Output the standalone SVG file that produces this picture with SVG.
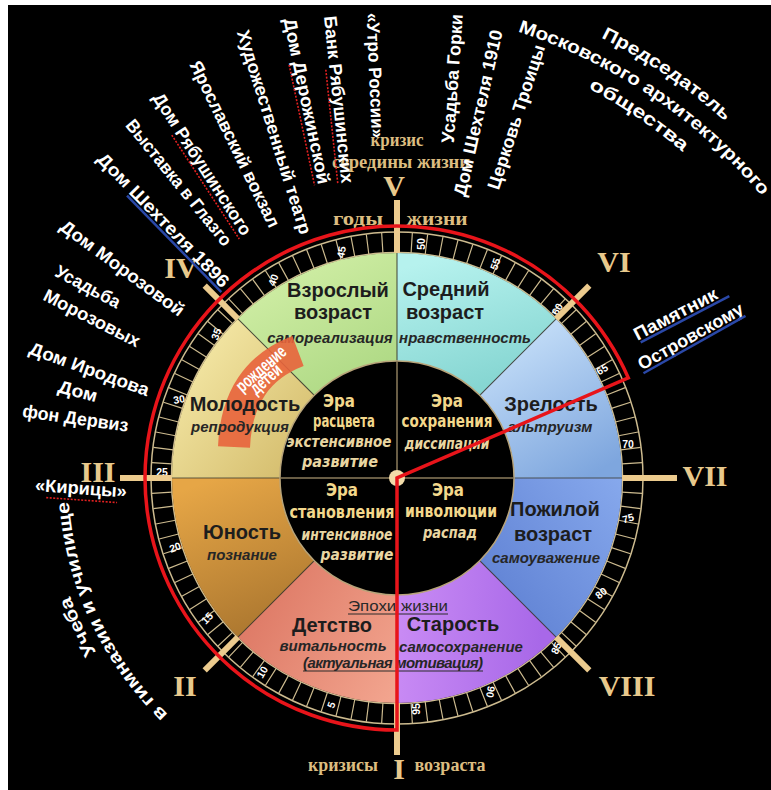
<svg xmlns="http://www.w3.org/2000/svg" width="771" height="790" viewBox="0 0 771 790">
<defs>
<style>
.lbl{font-family:"Liberation Sans",Arial,sans-serif;font-weight:bold;fill:#fff;font-size:18px;text-anchor:middle}
.rom{font-family:"Liberation Serif","Times New Roman",serif;font-weight:bold;fill:#e8c98c;font-size:30px;text-anchor:middle}
.srf{font-family:"Liberation Serif","Times New Roman",serif;font-weight:bold;fill:#dcbd80;font-size:18px;text-anchor:middle}
.sec{font-family:"Liberation Sans",Arial,sans-serif;font-weight:bold;fill:#1d1d1d;font-size:20px;text-anchor:middle}
.sit{font-family:"Liberation Sans",Arial,sans-serif;font-weight:bold;font-style:italic;fill:#262626;font-size:15px;text-anchor:middle}
.era{font-family:"DejaVu Sans Condensed","DejaVu Sans",sans-serif;font-weight:bold;fill:#f3d88c;font-size:18px;text-anchor:middle}
.eit{font-family:"DejaVu Sans Condensed","DejaVu Sans",sans-serif;font-weight:bold;font-style:italic;fill:#e9d6a2;font-size:15px;text-anchor:middle}
.tk text{font-family:"Liberation Sans",Arial,sans-serif;font-weight:bold;fill:#fff;font-size:10.5px;text-anchor:middle;dominant-baseline:central}
.sq{stroke:#e02020;stroke-width:1.6;stroke-dasharray:2 1.5;fill:none}
.bu{stroke:#2a48a8;stroke-width:2.5}
.bar{stroke:#eccb8e;stroke-width:6}
.div{stroke:#3a3a30;stroke-width:1.2;stroke-opacity:0.8}
</style>
<linearGradient id="gPoz" gradientUnits="userSpaceOnUse" x1="620" y1="480" x2="470" y2="600"><stop offset="0" stop-color="#86a8ec"/><stop offset="1" stop-color="#5d7fd2"/></linearGradient>
<linearGradient id="gStar" gradientUnits="userSpaceOnUse" x1="540" y1="650" x2="400" y2="640"><stop offset="0" stop-color="#a868e8"/><stop offset="1" stop-color="#c88af4"/></linearGradient>
<linearGradient id="gDet" gradientUnits="userSpaceOnUse" x1="395" y1="690" x2="250" y2="610"><stop offset="0" stop-color="#f2a48e"/><stop offset="1" stop-color="#de7a66"/></linearGradient>
<linearGradient id="gYun" gradientUnits="userSpaceOnUse" x1="210" y1="480" x2="270" y2="640"><stop offset="0" stop-color="#e6a646"/><stop offset="1" stop-color="#a8742e"/></linearGradient>
<linearGradient id="gMol" gradientUnits="userSpaceOnUse" x1="190" y1="380" x2="300" y2="470"><stop offset="0" stop-color="#f0e29e"/><stop offset="1" stop-color="#d4bc6c"/></linearGradient>
<linearGradient id="gVzr" gradientUnits="userSpaceOnUse" x1="300" y1="270" x2="360" y2="380"><stop offset="0" stop-color="#cdeca2"/><stop offset="1" stop-color="#b0da86"/></linearGradient>
<linearGradient id="gSred" gradientUnits="userSpaceOnUse" x1="430" y1="260" x2="470" y2="390"><stop offset="0" stop-color="#b6f2ee"/><stop offset="1" stop-color="#86d6d2"/></linearGradient>
<linearGradient id="gZrel" gradientUnits="userSpaceOnUse" x1="520" y1="330" x2="600" y2="470"><stop offset="0" stop-color="#c4def8"/><stop offset="1" stop-color="#7ea6de"/></linearGradient>
<path id="arcPred" d="M543.6,13 A563,563 0 0 1 769.4,165.3"/>
<path id="arcMosk" d="M503.5,27.1 A537,537 0 0 1 771.3,207.7"/>
<path id="arcObsh" d="M559.2,74.3 A512,512 0 0 1 706.7,173.7"/>
<path id="arcUch1" d="M278,805 A349,349 0 0 1 70,359"/>
<path id="arcUch2" d="M284.5,787.2 A329,329 0 0 1 87.8,365.5"/>
</defs>

<rect width="771" height="790" fill="#fff"/>
<rect x="8" y="5" width="763" height="785" fill="#000"/>

<g id="age-scale">
<circle cx="397" cy="478" r="246" fill="#000" stroke="#cdbb8f" stroke-width="1.5"/>
<circle cx="397" cy="478" r="235.5" fill="none" stroke="#cdbb8f" stroke-width="20" pathLength="100" stroke-dasharray="0.08 0.92" stroke-dashoffset="0.04"/>
<circle cx="397" cy="478" r="225.5" fill="none" stroke="#cdbb8f" stroke-width="1.5"/>
<g class="tk">
<text transform="translate(331,705) rotate(-70)">5</text>
<text transform="translate(262,672) rotate(-60)">10</text>
<text transform="translate(207,618) rotate(-45)">15</text>
<text transform="translate(175,547) rotate(-20)">20</text>
<text transform="translate(162,472)">25</text>
<text transform="translate(179,399) rotate(-10)">30</text>
<text transform="translate(216,334) rotate(-70)">35</text>
<text transform="translate(273,280) rotate(-70)">40</text>
<text transform="translate(341,252) rotate(-80)">45</text>
<text transform="translate(421,244) rotate(-90)">50</text>
<text transform="translate(495,264) rotate(-70)">55</text>
<text transform="translate(557,309) rotate(-60)">60</text>
<text transform="translate(602,369) rotate(-30)">65</text>
<text transform="translate(628,444)">70</text>
<text transform="translate(628,518) rotate(-15)">75</text>
<text transform="translate(601,593) rotate(-40)">80</text>
<text transform="translate(556,648) rotate(-65)">85</text>
<text transform="translate(491,692) rotate(100)">90</text>
<text transform="translate(416,709) rotate(-90)">95</text>
</g>
</g>

<g id="sector-pozhiloy">
<path d="M622,478 A225,225 0 0 1 556.1,637.1 L479.7,560.7 A117,117 0 0 0 514,478 Z" fill="url(#gPoz)"/>
<text class="sec" x="555" y="516">Пожилой</text>
<text class="sec" x="553" y="541">возраст</text>
<text class="sit" x="546" y="563">самоуважение</text>
</g>
<g id="sector-starost">
<path d="M556.1,637.1 A225,225 0 0 1 397,703 L397,595 A117,117 0 0 0 479.7,560.7 Z" fill="url(#gStar)"/>
<text class="sec" x="453" y="631" font-weight="normal" fill="#1e1a3a">Старость</text>
<text class="sit" x="461" y="652" fill="#2a1a40">самосохранение</text>
</g>
<g id="sector-detstvo">
<path d="M397,703 A225,225 0 0 1 237.9,637.1 L314.3,560.7 A117,117 0 0 0 397,595 Z" fill="url(#gDet)"/>
<text class="sec" x="332" y="632">Детство</text>
<text class="sit" x="333" y="651">витальность</text>
</g>
<g id="sector-yunost">
<path d="M237.9,637.1 A225,225 0 0 1 172,478 L280,478 A117,117 0 0 0 314.3,560.7 Z" fill="url(#gYun)"/>
<text class="sec" x="242" y="539">Юность</text>
<text class="sit" x="242" y="560">познание</text>
</g>
<g id="sector-molodost">
<path d="M172,478 A225,225 0 0 1 237.9,318.9 L314.3,395.3 A117,117 0 0 0 280,478 Z" fill="url(#gMol)"/>
</g>
<g id="sector-vzrosly">
<path d="M237.9,318.9 A225,225 0 0 1 397,253 L397,361 A117,117 0 0 0 314.3,395.3 Z" fill="url(#gVzr)"/>
<text class="sec" x="338" y="297">Взрослый</text>
<text class="sec" x="333" y="319">возраст</text>
<text class="sit" x="330" y="343">самореализация</text>
</g>
<g id="sector-sredny">
<path d="M397,253 A225,225 0 0 1 556.1,318.9 L479.7,395.3 A117,117 0 0 0 397,361 Z" fill="url(#gSred)"/>
<text class="sec" x="446" y="296">Средний</text>
<text class="sec" x="445" y="319">возраст</text>
<text class="sit" x="465" y="343">нравственность</text>
</g>
<g id="sector-zrelost">
<path d="M556.1,318.9 A225,225 0 0 1 622,478 L514,478 A117,117 0 0 0 479.7,395.3 Z" fill="url(#gZrel)"/>
<text class="sec" x="551" y="411">Зрелость</text>
<text class="sit" x="550" y="432">альтруизм</text>
</g>

<g id="sector-dividers">
<line class="div" x1="514" y1="478" x2="622" y2="478"/>
<line class="div" x1="479.7" y1="560.7" x2="556.1" y2="637.1"/>
<line class="div" x1="397" y1="595" x2="397" y2="703"/>
<line class="div" x1="314.3" y1="560.7" x2="237.9" y2="637.1"/>
<line class="div" x1="280" y1="478" x2="172" y2="478"/>
<line class="div" x1="314.3" y1="395.3" x2="237.9" y2="318.9"/>
<line class="div" x1="397" y1="361" x2="397" y2="253"/>
<line class="div" x1="479.7" y1="395.3" x2="556.1" y2="318.9"/>
</g>

<g id="birth-children">
<path d="M234,447 Q237,374 298,351" fill="none" stroke="#e8643c" stroke-width="32" opacity="0.9"/>
<g transform="translate(263,371) rotate(-41)">
<text class="lbl" font-size="11" x="0" y="3" textLength="60" lengthAdjust="spacingAndGlyphs">рождение</text>
<text class="lbl" font-size="11" x="-3" y="14" textLength="36" lengthAdjust="spacingAndGlyphs">детей</text>
</g>
</g>
<g id="molodost-text">
<text class="sec" x="245" y="411">Молодость</text>
<text class="sit" x="240" y="432">репродукция</text>
</g>

<g id="epochs-label">
<text x="398" y="611" font-family="Liberation Sans, Arial, sans-serif" font-size="15" fill="#2a2a2a" text-anchor="middle" textLength="100" lengthAdjust="spacingAndGlyphs">Эпохи жизни</text>
<line x1="348" y1="614" x2="448" y2="614" stroke="#2a2a2a" stroke-width="1"/>
<text class="sit" x="393" y="668" font-weight="normal" fill="#2a2a2a" textLength="180" font-size="14">(актуальная мотивация)</text>
<line x1="303" y1="671" x2="483" y2="671" stroke="#2a2a2a" stroke-width="1"/>
</g>

<g id="eras">
<circle cx="397" cy="478" r="117" fill="#000" stroke="#b8a47a" stroke-width="1.5"/>
<line x1="280" y1="478" x2="514" y2="478" stroke="#8c7c5c" stroke-width="1.5"/>
<line x1="397" y1="361" x2="397" y2="595" stroke="#8c7c5c" stroke-width="1.5"/>
<g id="era-rascveta">
<text class="era" x="339" y="407" textLength="32" lengthAdjust="spacingAndGlyphs">Эра</text>
<text class="era" x="344" y="427" textLength="62" lengthAdjust="spacingAndGlyphs">расцвета</text>
<text class="eit" x="339" y="447" textLength="105" lengthAdjust="spacingAndGlyphs">экстенсивное</text>
<text class="eit" x="340" y="467" textLength="76" lengthAdjust="spacingAndGlyphs">развитие</text>
</g>
<g id="era-sohraneniya">
<text class="era" x="447" y="407" textLength="32" lengthAdjust="spacingAndGlyphs">Эра</text>
<text class="era" x="447" y="427" textLength="91" lengthAdjust="spacingAndGlyphs">сохранения</text>
<text class="eit" x="447" y="449" textLength="85" lengthAdjust="spacingAndGlyphs">диссипации</text>
</g>
<g id="era-stanovleniya">
<text class="era" x="342" y="496" textLength="32" lengthAdjust="spacingAndGlyphs">Эра</text>
<text class="era" x="342" y="518" textLength="105" lengthAdjust="spacingAndGlyphs">становления</text>
<text class="eit" x="347" y="540" textLength="91" lengthAdjust="spacingAndGlyphs">интенсивное</text>
<text class="eit" x="357" y="560" textLength="73" lengthAdjust="spacingAndGlyphs">развитие</text>
</g>
<g id="era-involyucii">
<text class="era" x="448" y="496" textLength="32" lengthAdjust="spacingAndGlyphs">Эра</text>
<text class="era" x="451" y="517" textLength="92" lengthAdjust="spacingAndGlyphs">инволюции</text>
<text class="eit" x="450" y="538" textLength="54" lengthAdjust="spacingAndGlyphs">распад</text>
</g>
<circle cx="397" cy="478" r="8" fill="#f2dcaa"/>
</g>

<g id="numerals">
<line class="bar" x1="397" y1="703" x2="397" y2="755"/>
<line class="bar" x1="237.9" y1="637.1" x2="204.7" y2="670.3"/>
<line class="bar" x1="172" y1="478" x2="120" y2="478"/>
<line class="bar" x1="237.9" y1="318.9" x2="204.7" y2="285.7"/>
<line class="bar" x1="397" y1="253" x2="397" y2="200"/>
<line class="bar" x1="556.1" y1="318.9" x2="589.3" y2="285.7"/>
<line class="bar" x1="622" y1="478" x2="677" y2="478"/>
<line class="bar" x1="556.1" y1="637.1" x2="589.3" y2="670.3"/>
<text class="rom" x="399" y="779">I</text>
<text class="rom" x="185" y="696">II</text>
<text class="rom" x="98" y="482">III</text>
<text class="rom" x="181" y="278">IV</text>
<text class="rom" x="394" y="196">V</text>
<text class="rom" x="614" y="272">VI</text>
<text class="rom" x="705" y="486">VII</text>
<text class="rom" x="627" y="696">VIII</text>
</g>

<g id="crisis-labels">
<text class="srf" x="397" y="146" textLength="53" lengthAdjust="spacingAndGlyphs">кризис</text>
<text class="srf" x="401" y="168" textLength="138" lengthAdjust="spacingAndGlyphs">середины жизни</text>
<text class="srf" x="358" y="225" font-size="21" fill="#eeeeee" textLength="50" lengthAdjust="spacingAndGlyphs">годы</text>
<text class="srf" x="437" y="225" font-size="21" fill="#eeeeee" textLength="61" lengthAdjust="spacingAndGlyphs">жизни</text>
<text class="srf" x="343" y="771" textLength="70" lengthAdjust="spacingAndGlyphs">кризисы</text>
<text class="srf" x="450" y="771" textLength="71" lengthAdjust="spacingAndGlyphs">возраста</text>
</g>

<g id="connectors">
<path d="M397,478 L397,730 A252,252 0 1 1 628.3,377.9 Z" fill="none" stroke="#e8141a" stroke-width="3.5" stroke-linejoin="miter"/>
</g>

<g id="label-shekhtel-1896" transform="translate(163.5,220) rotate(45.7)">
<text class="lbl" y="6.3" textLength="180" lengthAdjust="spacingAndGlyphs">Дом Шехтеля 1896</text>
<line class="bu" x1="-43" y1="9" x2="92" y2="9"/>
</g>
<g id="label-glazgo" transform="translate(179,182.5) rotate(51)">
<text class="lbl" y="6.3" textLength="157" lengthAdjust="spacingAndGlyphs">Выставка в Глазго</text>
</g>
<g id="label-ryabushinsky-house" transform="translate(202.5,164) rotate(57)">
<text class="lbl" y="6.3" textLength="166" lengthAdjust="spacingAndGlyphs">Дом Рябушинского</text>
<line class="sq" x1="-41" y1="10" x2="83" y2="10"/>
</g>
<g id="label-yaroslavsky" transform="translate(235,144) rotate(64)">
<text class="lbl" y="6.3" textLength="183" lengthAdjust="spacingAndGlyphs">Ярославский вокзал</text>
</g>
<g id="label-mkhat" transform="translate(274.5,132) rotate(72.7)">
<text class="lbl" y="6.3" textLength="213" lengthAdjust="spacingAndGlyphs">Художественный театр</text>
</g>
<g id="label-derozhinskaya" transform="translate(307,101) rotate(78.1)">
<text class="lbl" y="6.3" textLength="169" lengthAdjust="spacingAndGlyphs">Дом Дерожинской</text>
<line class="sq" x1="-39" y1="10" x2="84" y2="10"/>
</g>
<g id="label-bank" transform="translate(339,99.5) rotate(84)">
<text class="lbl" y="6.3" textLength="168" lengthAdjust="spacingAndGlyphs">Банк Рябушинских</text>
<line class="sq" x1="-31" y1="10" x2="84" y2="10"/>
</g>
<g id="label-utro" transform="translate(375.5,75.5) rotate(87.5)">
<text class="lbl" y="6.3" textLength="125" lengthAdjust="spacingAndGlyphs">«Утро России»</text>
</g>
<g id="label-gorki" transform="translate(452,78.5) rotate(-86)">
<text class="lbl" y="6.3" textLength="129" lengthAdjust="spacingAndGlyphs">Усадьба Горки</text>
</g>
<g id="label-shekhtel-1910" transform="translate(478,113) rotate(-77.4)">
<text class="lbl" y="6.3" textLength="170" lengthAdjust="spacingAndGlyphs">Дом Шехтеля 1910</text>
</g>
<g id="label-troitsy" transform="translate(516,117) rotate(-72)">
<text class="lbl" y="6.3" textLength="151" lengthAdjust="spacingAndGlyphs">Церковь Троицы</text>
</g>
<g id="label-chairman">
<text class="lbl" font-size="19"><textPath href="#arcPred" startOffset="50%" textLength="150" lengthAdjust="spacingAndGlyphs">Председатель</textPath></text>
<text class="lbl" font-size="19"><textPath href="#arcMosk" startOffset="50%" textLength="298" lengthAdjust="spacingAndGlyphs">Московского архитектурного</textPath></text>
<text class="lbl" font-size="19"><textPath href="#arcObsh" startOffset="50%" textLength="114" lengthAdjust="spacingAndGlyphs">общества</textPath></text>
</g>
<g id="label-morozova" transform="translate(122.5,268) rotate(36.3)">
<text class="lbl" y="6.3" textLength="149" lengthAdjust="spacingAndGlyphs">Дом Морозовой</text>
</g>
<g id="label-usadba-morozovyh">
<text class="lbl" transform="translate(88,286.5) rotate(28)" y="6.3" textLength="71" lengthAdjust="spacingAndGlyphs">Усадьба</text>
<text class="lbl" transform="translate(92,318) rotate(27)" y="6.3" textLength="106" lengthAdjust="spacingAndGlyphs">Морозовых</text>
</g>
<g id="label-irodov" transform="translate(89.5,369) rotate(19.9)">
<text class="lbl" y="6.3" textLength="126" lengthAdjust="spacingAndGlyphs">Дом Иродова</text>
</g>
<g id="label-dervis">
<text class="lbl" transform="translate(78,391) rotate(15)" y="6.3" textLength="40" lengthAdjust="spacingAndGlyphs">Дом</text>
<text class="lbl" transform="translate(75.5,418) rotate(8)" y="6.3" textLength="107" lengthAdjust="spacingAndGlyphs">фон Дервиз</text>
</g>
<g id="label-kiritsy" transform="translate(81,488) rotate(4)">
<text class="lbl" y="6.3" textLength="92" lengthAdjust="spacingAndGlyphs">«Кирицы»</text>
<line class="sq" x1="-34" y1="12" x2="37" y2="12"/>
</g>
<g id="label-study">
<text class="lbl"><textPath href="#arcUch1" startOffset="50%" textLength="62" lengthAdjust="spacingAndGlyphs">Учеба</textPath></text>
<text class="lbl"><textPath href="#arcUch2" startOffset="50%" textLength="240" lengthAdjust="spacingAndGlyphs">в гимназии и училище</textPath></text>
</g>
<g id="label-ostrovsky">
<g transform="translate(675.5,314) rotate(-27.6)">
<text class="lbl" font-size="17" y="6" textLength="92" lengthAdjust="spacingAndGlyphs">Памятник</text>
<line class="bu" x1="-44" y1="9" x2="56" y2="9"/>
</g>
<g transform="translate(690.5,336.5) rotate(-29.3)">
<text class="lbl" font-size="17" y="6" textLength="118" lengthAdjust="spacingAndGlyphs">Островскому</text>
<line class="bu" x1="-59" y1="9" x2="58" y2="9"/>
</g>
</g>
</svg>
